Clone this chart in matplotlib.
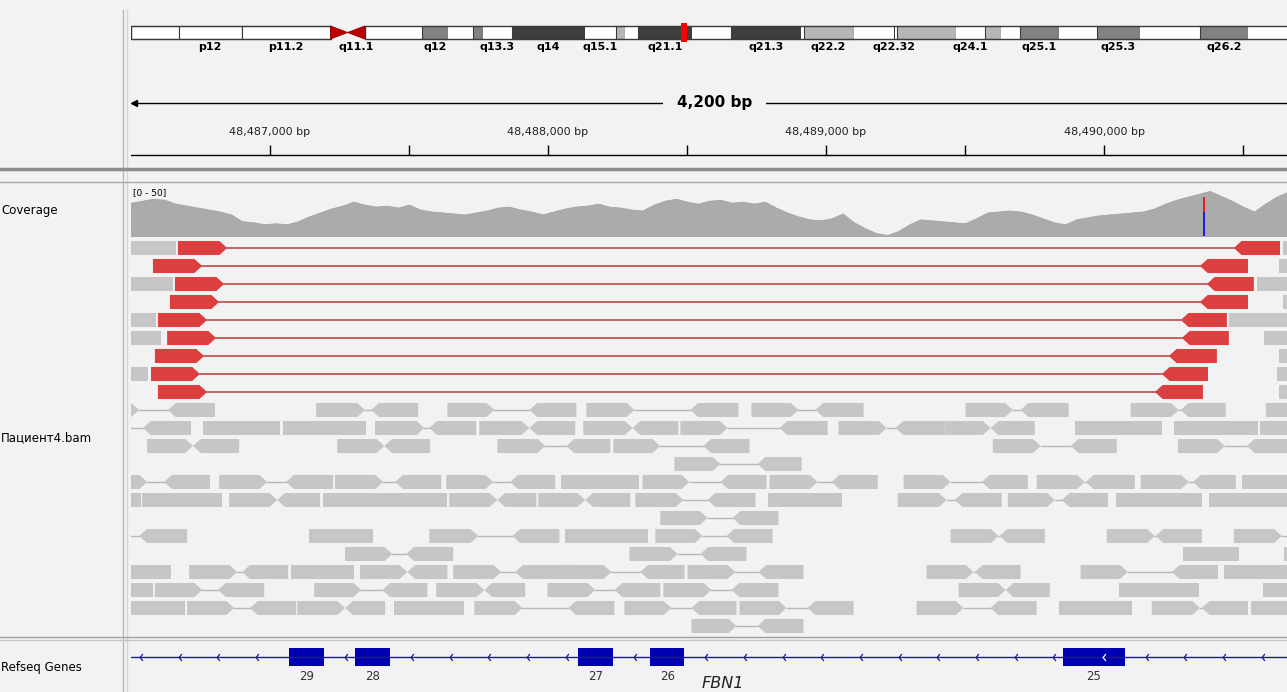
import numpy as np
import matplotlib
matplotlib.use("Agg")
from matplotlib import pyplot as plt
from matplotlib.patches import Rectangle, Polygon
from matplotlib.lines import Line2D
from matplotlib.path import Path

# chr15 cytobands (hg38), Mb
BAND_START = [0, 4.2, 9.7, 17.5, 19.0, 20.5, 25.5, 27.8, 30.0, 30.9,
              33.4, 39.8, 42.5, 43.3, 44.5, 49.2, 52.6, 58.8, 59.0, 63.4,
              66.9, 67.0, 67.2, 72.4, 74.9, 76.3, 78.0, 81.4, 84.7, 88.5,
              93.8, 98.0]
BAND_END = BAND_START[1:] + [102.0]
BAND_NAME = ['p13', 'p12', 'p11.2', 'p11.1', 'q11.1', 'q11.2', 'q12', 'q13.1', 'q13.2', 'q13.3',
             'q14', 'q15.1', 'q15.2', 'q15.3', 'q21.1', 'q21.2', 'q21.3', 'q22.1', 'q22.2', 'q22.31',
             'q22.32', 'q22.33', 'q23', 'q24.1', 'q24.2', 'q24.3', 'q25.1', 'q25.2', 'q25.3', 'q26.1',
             'q26.2', 'q26.3']
BAND_STAIN = ['gvar', 'stalk', 'gvar', 'acen', 'acen', 'gneg', 'gpos50', 'gneg', 'gpos50', 'gneg',
              'gpos75', 'gneg', 'gpos25', 'gneg', 'gpos75', 'gneg', 'gpos75', 'gneg', 'gpos25', 'gneg',
              'gpos25', 'gneg', 'gpos25', 'gneg', 'gpos25', 'gneg', 'gpos50', 'gneg', 'gpos50', 'gneg',
              'gpos50', 'gneg']
BAND_LABELS = ['p12', 'p11.2', 'q11.1', 'q12', 'q13.3', 'q14', 'q15.1', 'q21.1', 'q21.3',
               'q22.2', 'q22.32', 'q24.1', 'q25.1', 'q25.3', 'q26.2']
CURRENT_LOCUS_MB = 48.49

# visible window
VIEW_START = 48486500
SPAN_BP = 4200
RULER_LABELS = [48487000, 48488000, 48489000, 48490000]

# coverage, one value per 40 bp from VIEW_START
COVERAGE = [34, 36, 38, 37, 33, 31, 29, 27, 25, 22,
            15, 14, 12, 13, 12, 15, 20, 24, 28, 31,
            35, 32, 30, 31, 29, 32, 27, 25, 24, 23,
            22, 24, 26, 29, 30, 27, 25, 22, 25, 28,
            30, 31, 33, 30, 29, 27, 26, 32, 36, 38,
            35, 33, 36, 37, 34, 35, 33, 35, 29, 24,
            20, 17, 16, 18, 23, 14, 8, 3, 1, 5,
            12, 17, 16, 15, 14, 13, 18, 24, 25, 26,
            25, 22, 18, 14, 12, 17, 19, 21, 22, 23,
            24, 25, 28, 33, 37, 40, 43, 46, 41, 36,
            30, 25, 33, 40, 45]
COVERAGE_STEP = 40
COVERAGE_MAX = 50
SNV_OFFSET = 3860
SNV_COUNTS = [25, 15]  # C, T

# discordant pairs spanning the deletion (bp from VIEW_START)
DEL_LEFT_START = [169, 79, 158, 140, 97, 130, 86, 72, 97]
DEL_LEFT_END = [346, 256, 335, 317, 274, 306, 263, 248, 274]
DEL_RIGHT_START = [3967, 3845, 3870, 3845, 3776, 3780, 3733, 3708, 3683]
DEL_RIGHT_END = [4133, 4018, 4039, 4018, 3942, 3949, 3906, 3874, 3856]

# normal pairs: (row, fwd start, fwd end, rev start, rev end)
GRAY_PAIRS = [
    (9, -150, 29, 133, 302), (9, 666, 842, 864, 1033), (9, 1138, 1307, 1433, 1602),
    (9, 1638, 1811, 2012, 2185), (9, 2232, 2401, 2462, 2635), (9, 3002, 3172, 3200, 3373),
    (9, 3596, 3769, 3776, 3938),
    (10, -230, -50, 43, 216), (10, 878, 1055, 1073, 1242), (10, 1253, 1433, 1433, 1598),
    (10, 1627, 1804, 1804, 1969), (10, 1976, 2146, 2333, 2506), (10, 2545, 2718, 2750, 2930),
    (10, 2930, 3092, 3092, 3251),
    (11, 58, 223, 223, 389), (11, 742, 911, 911, 1076), (11, 1318, 1490, 1566, 1724),
    (11, 1735, 1904, 2059, 2225), (11, 3100, 3272, 3380, 3546), (11, 3766, 3935, 4014, 4180),
    (12, 1955, 2120, 2254, 2412),
    (13, -120, 58, 119, 284), (13, 317, 490, 558, 727), (13, 734, 907, 950, 1116),
    (13, 1134, 1303, 1364, 1526), (13, 1840, 2009, 2120, 2286), (13, 2297, 2470, 2520, 2686),
    (13, 2779, 2948, 3060, 3226), (13, 3258, 3431, 3434, 3611), (13, 3632, 3805, 3820, 3974),
    (14, 353, 526, 526, 680), (14, 1145, 1318, 1318, 1458), (14, 1465, 1634, 1634, 1796),
    (14, 1814, 1987, 2074, 2246), (14, 2758, 2934, 2963, 3132), (14, 3154, 3323, 3348, 3514),
    (15, 1904, 2074, 2164, 2329),
    (16, -200, -20, 29, 202), (16, 1073, 1249, 1372, 1541), (16, 1886, 2056, 2142, 2308),
    (16, 2948, 3121, 3125, 3287), (16, 3510, 3683, 3686, 3852), (16, 3967, 4140, 4400, 4570),
    (17, 770, 940, 990, 1159), (17, 1793, 1966, 2048, 2214),
    (18, 209, 382, 400, 565), (18, 824, 994, 994, 1138), (18, 1159, 1332, 1382, 1600),
    (18, 1540, 1728, 1832, 1991), (18, 2002, 2174, 2257, 2419), (18, 2862, 3031, 3035, 3200),
    (18, 3416, 3586, 3744, 3910),
    (19, 86, 256, 313, 479), (19, 659, 828, 904, 1066), (19, 1098, 1271, 1271, 1418),
    (19, 1498, 1670, 1739, 1904), (19, 1915, 2088, 2160, 2329), (19, 2977, 3146, 3146, 3305),
    (20, 202, 371, 428, 594), (20, 598, 770, 770, 914), (20, 1235, 1408, 1573, 1739),
    (20, 1775, 1944, 2016, 2178), (20, 2189, 2358, 2434, 2599), (20, 2826, 2995, 3092, 3258),
    (20, 3672, 3845, 3852, 4018),
    (21, 2016, 2178, 2254, 2419),
]
# reads without a visible mate: (row, start, end, strand)
GRAY_SINGLES = [
    (0, -60, 162, 'n'), (0, 4144, 4300, 'n'), (1, 4129, 4300, 'n'),
    (2, -60, 151, 'n'), (2, 4050, 4300, 'n'), (3, 4144, 4300, 'n'),
    (4, -60, 90, 'n'), (4, 3949, 4300, 'n'), (5, -60, 108, 'n'), (5, 4075, 4300, 'n'),
    (6, 4129, 4300, 'n'), (7, -60, 61, 'n'), (7, 4122, 4300, 'n'), (8, 4129, 4300, 'n'),
    (9, 4082, 4300, 'f'),
    (10, 259, 536, 'n'), (10, 547, 846, 'n'), (10, 3395, 3708, 'n'), (10, 3751, 4054, 'n'),
    (10, 4061, 4300, 'n'),
    (13, 1548, 1829, 'n'), (13, 3996, 4300, 'n'),
    (14, -60, 36, 'n'), (14, 40, 328, 'n'), (14, 691, 1138, 'n'), (14, 2293, 2556, 'n'),
    (14, 3542, 3852, 'n'), (14, 3877, 4300, 'n'),
    (16, 641, 871, 'n'), (16, 1562, 1861, 'n'),
    (17, 3784, 3985, 'n'), (17, 4147, 4300, 'n'),
    (18, -60, 144, 'n'), (18, 576, 803, 'n'), (18, 3931, 4300, 'n'),
    (19, -60, 79, 'n'), (19, 3553, 3841, 'n'), (19, 4072, 4300, 'n'),
    (20, -60, 194, 'n'), (20, 947, 1199, 'n'), (20, 3337, 3600, 'n'), (20, 4028, 4300, 'n'),
]

EXON_NUMBER = [29, 28, 27, 26, 25]
EXON_START = [569, 806, 1609, 1868, 3352]
EXON_END = [695, 932, 1735, 1991, 3575]
GENE_NAME = 'FBN1'
GENE_LABEL_OFFSET = 2128
TRACK_NAMES = ['Coverage', 'Пациент4.bam', 'Refseq Genes']

W, H = 1287, 692
DATA_X0 = 131
PX_PER_BP = 278 / 1000
BG = '#f2f2f2'
view_end = VIEW_START + (W - DATA_X0) / PX_PER_BP

fig = plt.figure(figsize=(W / 100, H / 100), dpi=100, facecolor=BG)


def panel(y0, y1, x0=DATA_X0, x1=W):
    ax = fig.add_axes([x0 / W, 1 - y1 / H, (x1 - x0) / W, (y1 - y0) / H])
    ax.set_axis_off()
    ax.patch.set_alpha(0)
    return ax


def hline(y, color, lw, x0=0, x1=W):
    fig.add_artist(Line2D([x0 / W, x1 / W], [1 - y / H, 1 - y / H], color=color, lw=lw))


def vline(x, color, lw, y0=0, y1=H):
    fig.add_artist(Line2D([x / W, x / W], [1 - y0 / H, 1 - y1 / H], color=color, lw=lw))


# ---- ideogram ----
STAIN_COLOR = {'gneg': 'white', 'gvar': 'white', 'stalk': 'white',
               'gpos25': '#b6b6b6', 'gpos50': '#828282', 'gpos75': '#3e3e3e'}
ax = panel(18, 54)
ax.set_xlim(0, (W - DATA_X0) / 11.4)
ax.set_ylim(54, 18)
for s, e, st in zip(BAND_START, BAND_END, BAND_STAIN):
    if st == 'acen':
        continue
    ax.add_patch(Rectangle((s, 26), e - s, 13, facecolor=STAIN_COLOR[st],
                           edgecolor='none' if st == 'gneg' else '#3a3a3a', lw=0.8))
cen = BAND_END[3]
p_end, q_start = BAND_START[3], BAND_END[4]
ax.add_patch(Rectangle((0, 26), p_end, 13, fill=False, ec='#3a3a3a', lw=1))
ax.add_patch(Rectangle((q_start, 26), BAND_END[-1] - q_start, 13, fill=False, ec='#3a3a3a', lw=1))
ax.add_patch(Polygon([(p_end, 26), (cen, 32.5), (p_end, 39)], closed=True, fc='#c00000', ec='#8b0000', lw=0.6))
ax.add_patch(Polygon([(q_start, 26), (cen, 32.5), (q_start, 39)], closed=True, fc='#c00000', ec='#8b0000', lw=0.6))
ax.add_patch(Rectangle((CURRENT_LOCUS_MB - 0.25, 23), 0.5, 19, fc='#ff0000', ec='none'))
for name in BAND_LABELS:
    i = BAND_NAME.index(name)
    ax.text((BAND_START[i] + BAND_END[i]) / 2, 47, name, ha='center', va='center',
            fontsize=8, fontweight='bold', color='black')

# ---- ruler ----
ax = panel(88, 160)
ax.set_xlim(VIEW_START, view_end)
ax.set_ylim(160, 88)
ax.plot([VIEW_START + 20, VIEW_START + SPAN_BP], [103, 103], color='black', lw=1)
ax.plot([VIEW_START + 12], [103], marker='<', ms=5, color='black')
ax.text(VIEW_START + SPAN_BP / 2, 103, f'{SPAN_BP:,} bp', ha='center', va='center',
        fontsize=11, fontweight='bold', bbox=dict(boxstyle='square,pad=0.9', fc=BG, ec='none'))
ticks = np.arange(RULER_LABELS[0], view_end, 500)
ax.vlines(ticks, 145, 155, color='black', lw=1)
for p in RULER_LABELS:
    ax.text(p, 132, f'{p:,} bp', ha='center', va='center', fontsize=8, color='#222222')
ax.plot([VIEW_START, view_end], [155, 155], color='black', lw=1)

# ---- coverage ----
ax = panel(187, 236)
ax.set_xlim(VIEW_START, view_end)
ax.set_ylim(0, COVERAGE_MAX)
pos = VIEW_START + COVERAGE_STEP * np.arange(len(COVERAGE))
ax.fill_between(pos, COVERAGE, color='#ababab', lw=0.6, edgecolor='#a4a4a4')
ax.bar(VIEW_START + SNV_OFFSET, SNV_COUNTS[0], width=7, color='#2020e0')
ax.bar(VIEW_START + SNV_OFFSET, SNV_COUNTS[1], width=7, bottom=SNV_COUNTS[0], color='#e02020')
ax.text(0.002, 0.97, f'[0 - {COVERAGE_MAX}]', transform=ax.transAxes, fontsize=6.5, va='top')

# ---- reads ----
ax = panel(239, 635)
ax.set_xlim(VIEW_START, view_end)
ax.set_ylim(22, 0)
TIP = 28
HALF = 0.39


def read(ax, s, e, row, strand, color):
    s, e = VIEW_START + s, VIEW_START + e
    y0, ym, y1 = row + 0.5 - HALF, row + 0.5, row + 0.5 + HALF
    if strand == 'f':
        pts = [(s, y0), (e - TIP, y0), (e, ym), (e - TIP, y1), (s, y1)]
    elif strand == 'r':
        pts = [(s + TIP, y0), (e, y0), (e, y1), (s + TIP, y1), (s, ym)]
    else:
        pts = [(s, y0), (e, y0), (e, y1), (s, y1)]
    ax.add_patch(Polygon(pts, closed=True, fc=color, ec='none', zorder=2))


for row, fs, fe, rs, re in GRAY_PAIRS:
    ax.plot([VIEW_START + fe, VIEW_START + rs], [row + 0.5] * 2, color='#b8b8b8', lw=1, zorder=1)
    read(ax, fs, fe, row, 'f', '#c6c6c6')
    read(ax, rs, re, row, 'r', '#c6c6c6')
for row, s, e, strand in GRAY_SINGLES:
    read(ax, s, e, row, strand, '#c6c6c6')
for row in range(len(DEL_LEFT_START)):
    ax.plot([VIEW_START + DEL_LEFT_END[row], VIEW_START + DEL_RIGHT_START[row]], [row + 0.5] * 2,
            color='#b83c3c', lw=1.1, zorder=1)
    read(ax, DEL_LEFT_START[row], DEL_LEFT_END[row], row, 'f', '#dc3f3f')
    read(ax, DEL_RIGHT_START[row], DEL_RIGHT_END[row], row, 'r', '#dc3f3f')

# ---- genes ----
ax = panel(641, 692)
ax.set_xlim(VIEW_START, view_end)
ax.set_ylim(692, 641)
ax.plot([VIEW_START - 200, view_end + 200], [657, 657], color='#1c1c8c', lw=1)
chev = Path([(0.4, 1), (-0.4, 0), (0.4, -1)], [Path.MOVETO, Path.LINETO, Path.LINETO])
step = 139
bounds = [(36, EXON_START[0] - 22)]
for k in range(len(EXON_START)):
    nxt = EXON_START[k + 1] - 22 if k + 1 < len(EXON_START) else view_end - VIEW_START
    bounds.append((EXON_END[k] + 79, nxt))
chev_x = np.concatenate([np.arange(a, b, step) for a, b in bounds])
ax.plot(VIEW_START + chev_x, [657] * len(chev_x), ls='none', marker=chev, ms=5,
        mec='#1c1c8c', mfc='none', mew=0.9)
for num, s, e in zip(EXON_NUMBER, EXON_START, EXON_END):
    ax.add_patch(Rectangle((VIEW_START + s, 648), e - s, 18, fc='#0000b2', ec='none'))
    ax.text(VIEW_START + (s + e) / 2, 677, str(num), ha='center', va='center', fontsize=8.5, color='#333333')
ax.plot([VIEW_START + (EXON_START[-1] + EXON_END[-1]) / 2 + 35], [657], ls='none', marker=chev, ms=5,
        mec='white', mfc='none', mew=0.9)
ax.text(VIEW_START + GENE_LABEL_OFFSET, 683, GENE_NAME, ha='center', va='center',
        fontsize=11.5, style='italic', color='#222222')

# ---- name panel and separators ----
for name, y in zip(TRACK_NAMES, [211, 438, 668]):
    fig.text(1 / W, 1 - y / H, name, fontsize=8.5, va='center', ha='left', color='black')
vline(123, '#b8b8b8', 1, 10, H)
vline(127, '#d6d6d6', 1, 10, H)
hline(169, '#8c8c8c', 2.5)
hline(182, '#a8a8a8', 1)
hline(637, '#a0a0a0', 1)
hline(640, '#c4c4c4', 1)

fig.savefig('out.png', dpi=100, facecolor=BG)
